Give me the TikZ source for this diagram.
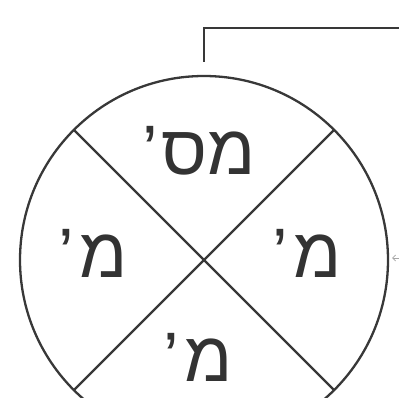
\documentclass[tikz,border=0pt]{standalone}
\usepackage{fontspec}
\newfontfamily\heb[Script=Hebrew]{Liberation Sans}
\TeXXeTstate=1
\usetikzlibrary{arrows.meta}
\tikzset{
  ln/.style={draw=black!78, line width=2.3pt},
  lbl/.style={font=\heb\fontsize{70}{80}\selectfont, text=black!80, inner sep=0pt},
}
\begin{document}
\begin{tikzpicture}[x=1pt,y=-1pt]
\useasboundingbox (0,0) rectangle (399,398);
\node[ln, circle, minimum size=368pt, inner sep=0pt, outer sep=0pt] (c) at (204,260) {};
\draw[ln] (c.north west) -- (c.south east);
\draw[ln] (c.north east) -- (c.south west);
\coordinate (t0) at (204,62);
\coordinate (t1) at (399,28);
\draw[ln] (t0) |- (t1);
\coordinate (a0) at (399,258);
\coordinate (a1) at (392,258);
\draw[draw=black!35, line width=0.8pt, -{Straight Barb[length=3pt,width=6pt]}] (a0) -- (a1);
\node[lbl] (top) at (199,151) {\beginR מס\kern4pt’\endR};
\node[lbl] (left) at (93,253) {\beginR מ\kern6pt’\endR};
\node[lbl] (right) at (307,253) {\beginR מ\kern6pt’\endR};
\node[lbl] (bottom) at (198,357) {\beginR מ\kern6pt’\endR};
\end{tikzpicture}
\end{document}
